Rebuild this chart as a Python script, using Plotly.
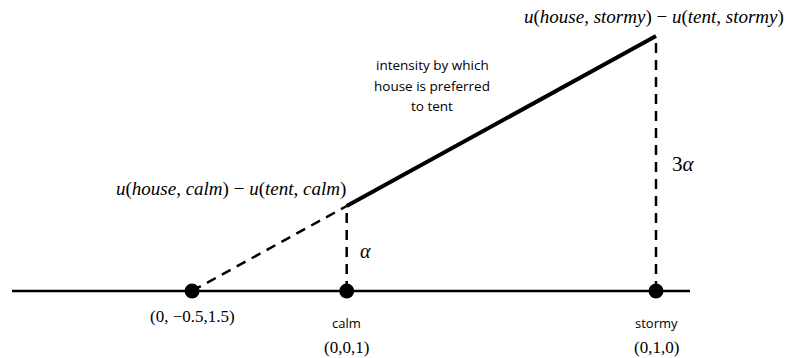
import plotly.graph_objects as go

# Points (x along the simplex segment, y = intensity in units of alpha)
point_names = ["(0, \u22120.5,1.5)", "calm", "stormy"]
point_x = [-0.5, 0.0, 1.0]
point_y = [0.0, 1.0, 3.0]
coord_labels = ["(0,0,1)", "(0,1,0)"]
axis_x = [-1.082, 1.11]
note_lines = ["intensity by which", "house is preferred", "to tent"]

W, H = 793, 358
fig = go.Figure()

fig.add_trace(go.Scatter(x=axis_x, y=[0, 0], mode="lines",
                         line=dict(color="black", width=2.5), hoverinfo="skip"))
fig.add_trace(go.Scatter(x=[point_x[0], point_x[1]], y=[point_y[0], point_y[1]], mode="lines",
                         line=dict(color="black", width=2.5, dash="10px,7px"), hoverinfo="skip"))
for i in (1, 2):
    fig.add_trace(go.Scatter(x=[point_x[i], point_x[i]], y=[0, point_y[i]], mode="lines",
                             line=dict(color="black", width=2.5, dash="10px,7px"), hoverinfo="skip"))
fig.add_trace(go.Scatter(x=[point_x[1], point_x[2]], y=[point_y[1], point_y[2]], mode="lines",
                         line=dict(color="black", width=4), hoverinfo="skip"))
fig.add_trace(go.Scatter(x=point_x, y=[0, 0, 0], mode="markers",
                         marker=dict(color="black", size=15), hoverinfo="skip"))

serif = "Liberation Serif"
sans = "Open Sans"
ann = []
ann.append(dict(x=point_x[0], y=0, text=point_names[0], yshift=-25,
                font=dict(family=serif, size=17)))
ann.append(dict(x=point_x[1], y=0, text=point_names[1], yshift=-32,
                font=dict(family=sans, size=13)))
ann.append(dict(x=point_x[1], y=0, text=coord_labels[0], yshift=-56,
                font=dict(family=serif, size=17)))
ann.append(dict(x=point_x[2], y=0, text=point_names[2], yshift=-32,
                font=dict(family=sans, size=13)))
ann.append(dict(x=point_x[2], y=0, text=coord_labels[1], yshift=-56,
                font=dict(family=serif, size=17)))
ann.append(dict(x=point_x[1], y=point_y[1], text="<i>u</i>(<i>house</i>, <i>calm</i>) \u2212 <i>u</i>(<i>tent</i>, <i>calm</i>)",
                xanchor="right", xshift=1, yshift=17, font=dict(family=serif, size=19)))
ann.append(dict(x=point_x[2], y=point_y[2], text="<i>u</i>(<i>house</i>, <i>stormy</i>) \u2212 <i>u</i>(<i>tent</i>, <i>stormy</i>)",
                xshift=-2, yshift=19, font=dict(family=serif, size=19)))
ann.append(dict(x=point_x[1], y=point_y[1] * 0.5, text="<i>\u03b1</i>", xanchor="left", xshift=11, yshift=-2,
                font=dict(family=serif, size=20)))
ann.append(dict(x=point_x[2], y=point_y[2] * 0.5, text="3<i>\u03b1</i>", xanchor="left", xshift=14, yshift=0,
                font=dict(family=serif, size=21)))
for txt, yy in zip(note_lines, [2.66, 2.41, 2.18]):
    ann.append(dict(x=0.276, y=yy, text=txt, font=dict(family=sans, size=13.5)))

for a in ann:
    a.update(xref="x", yref="y", showarrow=False)
    a["font"]["color"] = "black"

px_per_x = 309.3
x0_px = 346.7
px_per_y = 85.0
y0_px = 291.0
fig.update_layout(
    width=W, height=H,
    margin=dict(l=0, r=0, t=0, b=0),
    paper_bgcolor="white", plot_bgcolor="white",
    showlegend=False,
    hovermode=False,
    annotations=ann,
    xaxis=dict(range=[-x0_px / px_per_x, (W - x0_px) / px_per_x], visible=False, fixedrange=True),
    yaxis=dict(range=[-(H - y0_px) / px_per_y, y0_px / px_per_y], visible=False, fixedrange=True),
)
fig.write_html("out.html", config={"displayModeBar": False, "staticPlot": True},
               post_script="document.body.style.margin='0';")
